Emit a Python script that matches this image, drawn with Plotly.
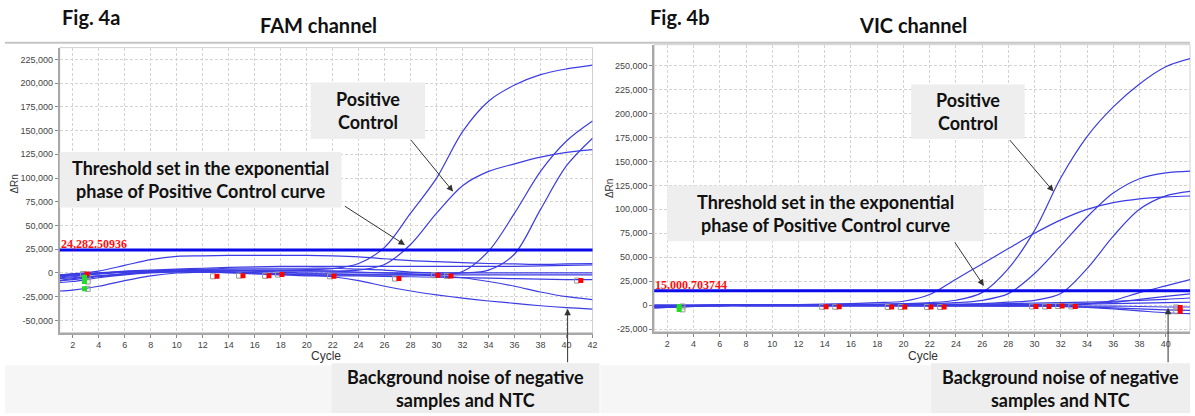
import plotly.graph_objects as go

W, H = 1195, 416

# ---------------- data ----------------
CYCLES = [1, 2, 4, 6, 8, 10, 12, 14, 16, 18, 20, 22, 24, 26, 28, 30, 32, 34, 36, 38, 40, 42]

# FAM channel amplification curves (delta Rn)
FAM_A = [-4000, -3000, -1000, 1000, 2000, 3000, 3000, 3000, 3000, 3000, 3500, 4500, 10000, 27000, 63000, 100000, 149000, 181000, 198000, 209000, 215000, 219000]
FAM_B = [-6000, -5000, -3000, -1000, 1000, 2000, 2000, 2000, 2000, 2000, 2000, 2000, 3000, 9000, 30000, 63000, 92000, 107000, 115000, 122000, 127000, 130000]
FAM_C = [-8000, -6000, -3000, -1000, 1000, 2000, 3000, 3000, 3000, 3000, 2500, 2000, 1000, 0, -1000, -2000, 1500, 23000, 63000, 107000, 139000, 160000]
FAM_D = [-3000, -2000, 0, 1000, 2000, 3000, 4000, 5000, 5000, 5000, 5000, 5000, 4000, 3000, 1000, 0, 0, 3000, 20000, 67000, 113000, 142000]
FAM_E = [-2000, -1000, 2000, 8000, 14000, 17500, 18000, 18500, 18500, 18500, 18500, 18000, 17000, 15000, 13000, 12000, 11000, 10000, 9500, 9000, 9500, 10000]
FAM_F = [-19000, -18000, -14000, -8000, -3000, 0, 1000, 1000, 0, -1000, -2000, -4000, -8000, -14000, -19000, -23000, -26500, -29500, -32000, -34500, -36500, -38000]
FAM_G = [-8000, -7000, -4000, -1000, 1000, 2000, 2000, 1000, 0, -1000, -1000, -1000, -2000, -2000, -2000, -3000, -5000, -9000, -14000, -20000, -25000, -28000]
FAM_H = [-3000, -2000, 0, 2000, 3000, 4000, 5000, 6000, 6500, 7000, 7000, 7000, 7000, 7000, 7000, 7000, 7000, 7000, 7000, 7500, 8000, 8500]
FAM_I = [-5000, -4000, -1000, 1000, 2000, 3000, 3000, 3000, 2000, 1000, 0, 0, 0, 0, 0, 0, 0, 0, 0, 0, 0, 0]
FAM_J = [-10000, -9000, -5000, -2000, 0, 1000, 1000, 1000, 0, -1000, -2000, -2000, -2000, -2000, -2000, -2000, -2000, -2000, -2000, -2000, -2000, -2000]
FAM_K = [-2000, -1000, 0, 1000, 2000, 2000, 1000, 0, -1000, -2000, -3000, -3000, -3000, -3500, -4000, -4500, -5000, -5500, -6000, -6500, -7000, -7000]
FAM_CURVES = [FAM_A, FAM_B, FAM_C, FAM_D, FAM_E, FAM_F, FAM_G, FAM_H, FAM_I, FAM_J, FAM_K]
FAM_THRESHOLD = 24282.50936
FAM_THRESHOLD_LABEL = "24,282.50936"
FAM_CT_X = [3.1, 13.1, 15.1, 17.1, 18.1, 22.1, 27.1, 30.1, 31.1, 41.1]
FAM_CT_Y = [-1000, -3500, -2800, -3000, -1700, -3500, -5900, -2400, -3100, -8000]
FAM_GREEN_X = [2.9, 2.9, 2.9]
FAM_GREEN_Y = [-4500, -9000, -16700]
FAM_YTICKS = [-50000, -25000, 0, 25000, 50000, 75000, 100000, 125000, 150000, 175000, 200000, 225000]

# VIC channel amplification curves (delta Rn)
VIC_A = [0, 0, 0, 0, 0, 0, 0, 500, 1000, 1000, 1500, 2500, 5000, 13000, 38000, 78000, 133000, 176000, 207000, 231000, 249000, 258000]
VIC_B = [-1000, -1000, -500, 0, 0, 0, 500, 1000, 1500, 2500, 4000, 11000, 27000, 43000, 59000, 75000, 89000, 100000, 107000, 111000, 113000, 114000]
VIC_C = [-2000, -2000, -1000, -500, 0, 0, 0, 0, 500, 500, 1000, 1500, 2500, 5000, 12000, 33000, 62000, 92000, 117000, 132000, 138000, 140000]
VIC_D = [-1000, -1000, -500, 0, 0, 0, 0, 0, 0, 0, 0, 500, 1000, 1500, 3000, 5000, 12000, 38000, 72000, 100000, 114000, 119000]
VIC_E = [-2000, -2000, -1000, -500, 0, 0, 0, 0, 0, 0, 0, 0, 0, 0, 0, 0, 0, 1000, 5000, 13000, 20000, 27000]
VIC_F = [-3000, -2500, -1500, -500, 0, 0, 0, 0, 0, 0, 0, 0, 0, 0, 500, 500, 1000, 1500, 3000, 6000, 9000, 12000]
VIC_G = [0, 0, 0, 0, 0, 0, 0, 0, 0, 0, 0, 0, 500, 1000, 1500, 2000, 2500, 3000, 4000, 5000, 6000, 7500]
VIC_H = [-1000, -1000, -500, 0, 0, 0, 0, 0, 0, 0, 0, 0, 0, 0, 0, 0, 500, 1000, 1500, 2000, 2500, 3000]
VIC_I = [-2000, -1500, -1000, -500, -500, -500, -500, -500, -500, -500, -500, -500, -500, -500, -500, -500, -500, -1000, -1000, -1500, -2000, -2000]
VIC_J = [-3000, -2500, -1500, -1000, -1000, -1000, -1000, -1000, -1000, -1000, -1000, -1000, -1000, -1000, -1000, -1000, -1500, -2000, -3000, -4000, -5000, -5500]
VIC_K = [-1000, -1000, -500, 0, 0, 0, 0, 0, 0, 0, 0, -500, -500, -500, -1000, -1000, -1500, -2500, -4000, -6000, -8000, -9000]
VIC_CURVES = [VIC_A, VIC_B, VIC_C, VIC_D, VIC_E, VIC_F, VIC_G, VIC_H, VIC_I, VIC_J, VIC_K]
VIC_THRESHOLD = 15000.703744
VIC_THRESHOLD_LABEL = "15,000.703744"
VIC_CT_X = [14.1, 15.1, 19.1, 20.1, 22.1, 23.1, 30.1, 31.1, 32.1, 33.1, 41.1, 41.1]
VIC_CT_Y = [-1800, -1800, -2000, -2000, -2000, -2000, -1500, -1500, -1000, -1500, -2500, -6500]
VIC_GREEN_X = [2.9, 2.9]
VIC_GREEN_Y = [-1500, -4500]
VIC_YTICKS = [-25000, 0, 25000, 50000, 75000, 100000, 125000, 150000, 175000, 200000, 225000, 250000]

X_TICKS = list(range(2, 43, 2))

# ---------------- styling ----------------
BLUE = "rgb(60,60,228)"
THR_BLUE = "rgb(10,10,235)"
TICK_FONT = dict(family="Liberation Sans, Arial", size=9, color="#444")
BOX_FONT = dict(family="Lato, Carlito, Calibri", size=18, color="#111")
BOX_BG = "#eeeeee"


def fx(x):
    return x / W


def fy(y):
    return 1 - y / H


fig = go.Figure()

for curves, xa, ya in [(FAM_CURVES, "x", "y"), (VIC_CURVES, "x2", "y2")]:
    for c in curves:
        fig.add_trace(go.Scatter(x=CYCLES, y=c, mode="lines", xaxis=xa, yaxis=ya,
                                 line=dict(color=BLUE, width=1.2, shape="spline", smoothing=0.9),
                                 hoverinfo="skip"))

for cx, cy, gx, gy, xa, ya in [(FAM_CT_X, FAM_CT_Y, FAM_GREEN_X, FAM_GREEN_Y, "x", "y"),
                               (VIC_CT_X, VIC_CT_Y, VIC_GREEN_X, VIC_GREEN_Y, "x2", "y2")]:
    fig.add_trace(go.Scatter(x=[v - 0.3 for v in cx], y=cy, mode="markers", xaxis=xa, yaxis=ya,
                             marker=dict(symbol="square-open", size=5, color="#999", line=dict(width=1)),
                             hoverinfo="skip"))
    fig.add_trace(go.Scatter(x=[v + 0.25 for v in gx], y=gy, mode="markers", xaxis=xa, yaxis=ya,
                             marker=dict(symbol="square-open", size=5, color="#999", line=dict(width=1)),
                             hoverinfo="skip"))
    fig.add_trace(go.Scatter(x=cx, y=cy, mode="markers", xaxis=xa, yaxis=ya,
                             marker=dict(symbol="square", size=5, color="#ff0000"), hoverinfo="skip"))
    fig.add_trace(go.Scatter(x=gx, y=gy, mode="markers", xaxis=xa, yaxis=ya,
                             marker=dict(symbol="square", size=5, color="#22dd22"), hoverinfo="skip"))

axis_common = dict(showgrid=True, gridcolor="#d4d4d4", griddash="3px,2px", gridwidth=1,
                   showline=True, linecolor="#a8a8a8", linewidth=2, ticks="outside", ticklen=3,
                   tickcolor="#888", tickfont=TICK_FONT, zeroline=False)

fig.update_layout(
    width=W, height=H, margin=dict(l=0, r=0, t=0, b=0),
    paper_bgcolor="white", plot_bgcolor="white", showlegend=False,
    xaxis=dict(domain=[fx(60), fx(595)], range=[1, 42], tickvals=X_TICKS, anchor="y", **axis_common),
    yaxis=dict(domain=[fy(335), fy(48)], range=[-62800, 237400], tickvals=FAM_YTICKS,
               ticktext=[f"{v:,}" for v in FAM_YTICKS], anchor="x", **axis_common),
    xaxis2=dict(domain=[fx(657), 1.0], range=[1, 41.85], tickvals=X_TICKS, anchor="y2", **axis_common),
    yaxis2=dict(domain=[fy(334), fy(45)], range=[-27700, 272000], tickvals=VIC_YTICKS,
                ticktext=[f"{v:,}" for v in VIC_YTICKS], anchor="x2", **axis_common),
)

shapes = []
# frame line at top
shapes.append(dict(type="line", xref="paper", yref="paper", x0=fx(5), x1=1, y0=fy(43), y1=fy(43),
                   line=dict(color="#c4c4c4", width=2)))
# light plot borders
for xd, yd in [("x domain", "y domain"), ("x2 domain", "y2 domain")]:
    shapes.append(dict(type="rect", xref=xd, yref=yd, x0=0, x1=1, y0=0, y1=1,
                       line=dict(color="#d0d0d0", width=1), layer="below"))
# threshold lines
shapes.append(dict(type="line", xref="x domain", yref="y", x0=0, x1=1, y0=FAM_THRESHOLD, y1=FAM_THRESHOLD,
                   line=dict(color=THR_BLUE, width=3)))
shapes.append(dict(type="line", xref="x2 domain", yref="y2", x0=0, x1=1, y0=VIC_THRESHOLD, y1=VIC_THRESHOLD,
                   line=dict(color=THR_BLUE, width=3)))
# bottom light bands
for x0, x1 in [(5, 333), (603, 935)]:
    shapes.append(dict(type="rect", xref="paper", yref="paper", x0=fx(x0), x1=fx(x1), y0=fy(416), y1=fy(368),
                       fillcolor="#f6f6f6", line=dict(width=0), layer="below"))
# annotation boxes
BOXES = [
    (312, 427, 83, 140, "Positive<br>Control"),
    (60, 343, 153, 209, "Threshold set in the exponential<br>phase of Positive Control curve"),
    (333, 602, 366, 416, "Background noise of negative<br>samples and NTC"),
    (915, 1029, 85, 140, "Positive<br>Control"),
    (670, 988, 187, 243, "Threshold set in the exponential<br>phase of Positive Control curve"),
    (935, 1195, 366, 416, "Background noise of negative<br>samples and NTC"),
]
for x0, x1, y0, y1, _ in BOXES:
    shapes.append(dict(type="rect", xref="paper", yref="paper", x0=fx(x0), x1=fx(x1), y0=fy(y1), y1=fy(y0),
                       fillcolor=BOX_BG, line=dict(width=0)))
fig.update_layout(shapes=shapes)

ann = []
for x0, x1, y0, y1, t in BOXES:
    ann.append(dict(xref="paper", yref="paper", x=fx((x0 + x1) / 2), y=fy((y0 + y1) / 2),
                    text=f"<b>{t}</b>", showarrow=False, font=BOX_FONT, xanchor="center", yanchor="middle"))

# titles
TITLE_FONT = dict(family="Lato, Carlito, Calibri", size=20, color="#111")
for x, y, t in [(91, 17, "Fig. 4a"), (320, 25, "FAM channel"), (683, 17, "Fig. 4b"), (917, 25, "VIC channel")]:
    ann.append(dict(xref="paper", yref="paper", x=fx(x), y=fy(y), text=f"<b>{t}</b>", showarrow=False,
                    font=TITLE_FONT, xanchor="center", yanchor="middle"))

# axis titles
LBL_FONT = dict(family="Liberation Sans, Arial", size=12, color="#333")
for x, y in [(327, 359), (927, 359)]:
    ann.append(dict(xref="paper", yref="paper", x=fx(x), y=fy(y), text="Cycle", showarrow=False,
                    font=LBL_FONT, xanchor="center", yanchor="middle", borderpad=0))
for x, y in [(15, 185), (612, 190)]:
    ann.append(dict(xref="paper", yref="paper", x=fx(x), y=fy(y), text="ΔRn", showarrow=False, textangle=-90,
                    font=dict(family="Liberation Sans, Arial", size=10, color="#333"),
                    xanchor="center", yanchor="middle"))

# threshold labels
THR_FONT = dict(family="Liberation Serif, Times New Roman", size=12, color="#ff1010")
ann.append(dict(xref="x", yref="y", x=1, y=FAM_THRESHOLD, text=f"<b>{FAM_THRESHOLD_LABEL}</b>",
                showarrow=False, font=THR_FONT, xanchor="left", yanchor="bottom", borderpad=0, yshift=-2))
ann.append(dict(xref="x2", yref="y2", x=1, y=VIC_THRESHOLD, text=f"<b>{VIC_THRESHOLD_LABEL}</b>",
                showarrow=False, font=THR_FONT, xanchor="left", yanchor="bottom", borderpad=0, yshift=-2))

# arrows (tail -> tip in pixels)
ARROWS = [((411.7, 140), (455, 193)), ((345, 207), (406.7, 246.7)), ((570, 366), (570, 311)),
          ((1013, 140), (1058, 193)), ((958, 243), (988, 288)), ((1173, 366), (1173, 310))]
for (tx, ty), (hx, hy) in ARROWS:
    ann.append(dict(xref="paper", yref="paper", x=fx(hx), y=fy(hy), ax=tx - hx, ay=ty - hy,
                    axref="pixel", ayref="pixel", text="", showarrow=True, arrowhead=2, arrowsize=1.3,
                    arrowwidth=1, arrowcolor="#333", standoff=0, startstandoff=0))

fig.update_layout(annotations=ann)
fig.write_html("out.html", config={"displayModeBar": False},
               post_script="document.body.style.margin='0';document.body.style.overflow='hidden';")
